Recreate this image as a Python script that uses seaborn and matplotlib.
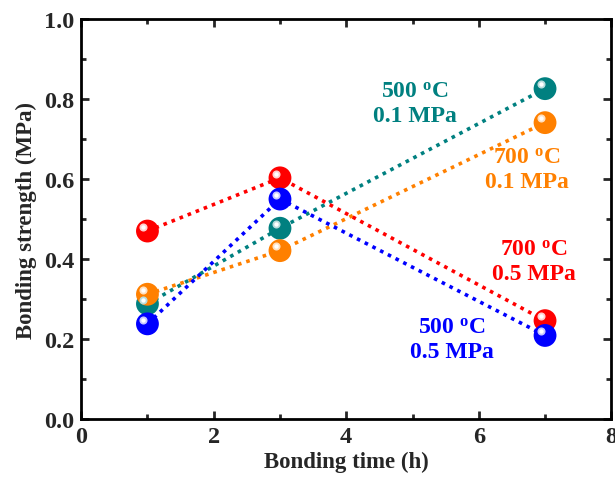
import pandas as pd
import seaborn as sns
import matplotlib

matplotlib.use("Agg")
import matplotlib.pyplot as plt
from matplotlib.transforms import offset_copy
from matplotlib.ticker import MultipleLocator


# Bonding time (h)
TIME = [1, 3, 7]

# Bonding strength (MPa) per condition
S_500_01 = [0.288, 0.477, 0.826]
S_700_01 = [0.312, 0.421, 0.741]
S_700_05 = [0.470, 0.603, 0.246]
S_500_05 = [0.238, 0.550, 0.209]

SERIES = ["500C_0.1", "700C_0.1", "700C_0.5", "500C_0.5"]
COLORS = ["#008080", "#FF8000", "#FF0000", "#0000FF"]
HIGHLIGHTS = ["#b8dcdc", "#ffe0c0", "#ffd0d0", "#c8c8ff"]
LABELS = ["500 $^{\\mathregular{o}}$C\n0.1 MPa", "700 $^{\\mathregular{o}}$C\n0.1 MPa",
          "700 $^{\\mathregular{o}}$C\n0.5 MPa", "500 $^{\\mathregular{o}}$C\n0.5 MPa"]


def main():
    sns.set_style("ticks")
    plt.rcParams["font.family"] = ["Liberation Serif", "DejaVu Serif"]
    plt.rcParams["font.weight"] = "bold"
    plt.rcParams["mathtext.fontset"] = "custom"
    plt.rcParams["mathtext.rm"] = "Liberation Serif:bold"
    plt.rcParams["mathtext.it"] = "Liberation Serif:bold"
    plt.rcParams["mathtext.bf"] = "Liberation Serif:bold"

    rows = []
    for name, vals in zip(SERIES, [S_500_01, S_700_01, S_700_05, S_500_05]):
        for t, v in zip(TIME, vals):
            rows.append({"time": t, "strength": v, "series": name})
    df = pd.DataFrame(rows)
    palette = dict(zip(SERIES, COLORS))

    fig = plt.figure(figsize=(6.15, 4.89), dpi=100)
    ax = fig.add_axes([0.132, 0.141, 0.862, 0.818])

    sns.lineplot(data=df, x="time", y="strength", hue="series", palette=palette,
                 linewidth=2.6, legend=False, ax=ax, sort=False)
    for line in ax.lines:
        line.set_linestyle((0, (1.0, 1.4)))

    sns.scatterplot(data=df, x="time", y="strength", hue="series", palette=palette,
                    s=270, linewidth=0, legend=False, ax=ax, zorder=3)
    # specular highlight to mimic the shaded spheres
    hl = offset_copy(ax.transData, fig=fig, x=-3, y=3, units="points")
    for name, hc in zip(SERIES, HIGHLIGHTS):
        sub = df[df["series"] == name]
        ax.scatter(sub["time"], sub["strength"], s=34, color=hc, linewidth=0,
                   transform=hl, zorder=4)
        ax.scatter(sub["time"], sub["strength"], s=10, color="white", linewidth=0,
                   transform=hl, zorder=5)

    # condition labels
    text_pos = [(5.04, 0.79), (6.73, 0.625), (6.83, 0.395), (5.59, 0.20)]
    for (x, y), lab, c in zip(text_pos, LABELS, COLORS):
        ax.text(x, y, lab, color=c, fontsize=17, fontweight="bold",
                ha="center", va="center", linespacing=1.2)

    ax.set_xlim(0, 8)
    ax.set_ylim(0, 1.0)
    ax.xaxis.set_major_locator(MultipleLocator(2))
    ax.xaxis.set_minor_locator(MultipleLocator(1))
    ax.yaxis.set_major_locator(MultipleLocator(0.2))
    ax.yaxis.set_minor_locator(MultipleLocator(0.1))
    ax.tick_params(which="both", direction="in", top=True, right=True, width=2)
    ax.tick_params(which="major", length=6, labelsize=17.5, pad=5)
    ax.tick_params(which="minor", length=3.5)
    for lab in ax.get_xticklabels() + ax.get_yticklabels():
        lab.set_fontweight("bold")
    for sp in ax.spines.values():
        sp.set_linewidth(2)
        sp.set_color("black")

    ax.set_xlabel("Bonding time (h)", fontsize=16.5, fontweight="bold", labelpad=3)
    ax.set_ylabel("Bonding strength (MPa)", fontsize=16.5, fontweight="bold", labelpad=5)

    fig.savefig("out.png", dpi=100)
    plt.close(fig)


if __name__ == "__main__":
    main()
